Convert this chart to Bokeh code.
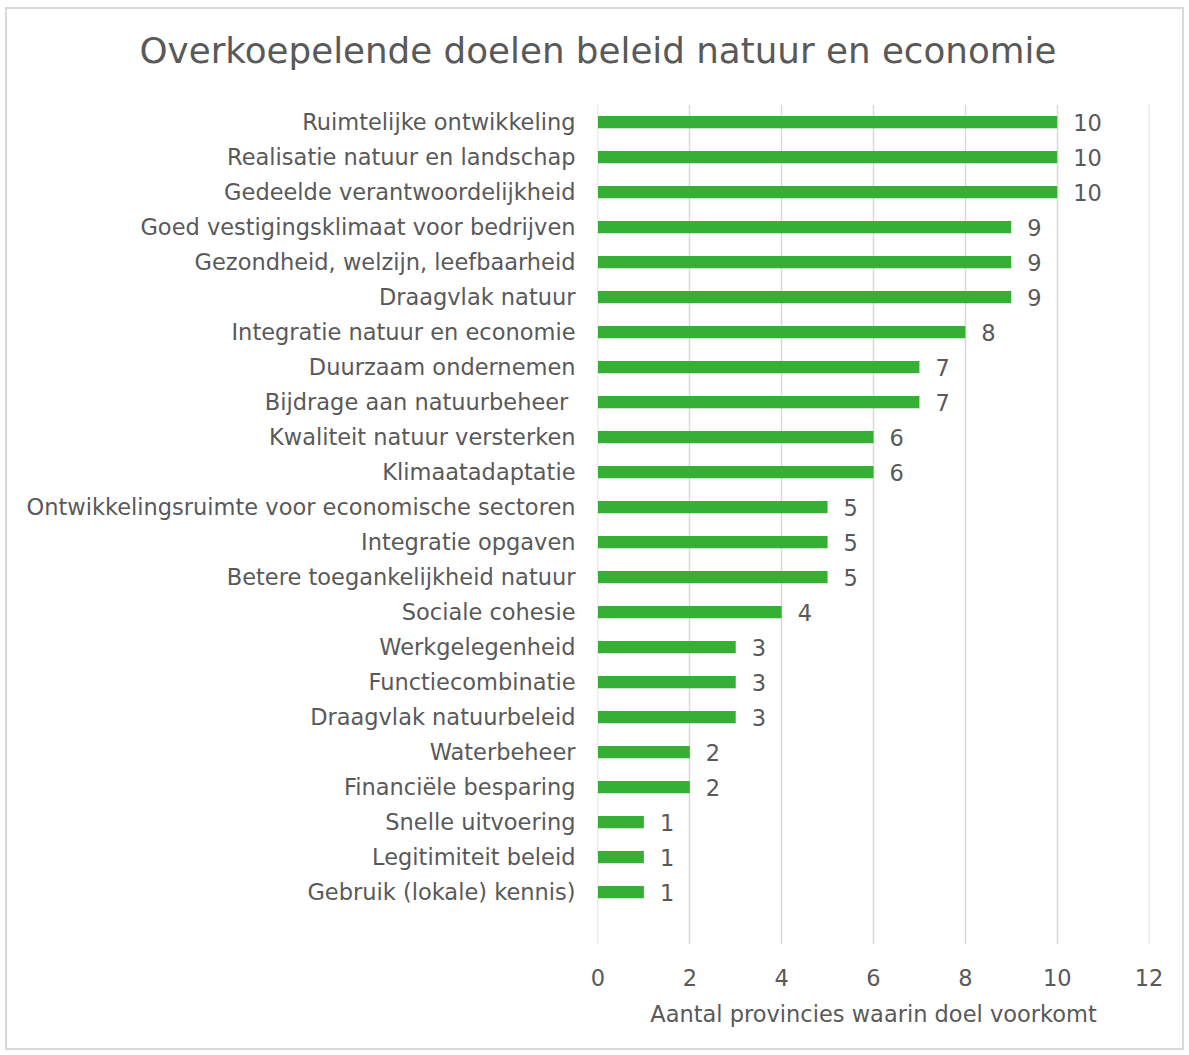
from bokeh.plotting import figure
from bokeh.models import ColumnDataSource, FixedTicker, Range1d, LabelSet, Title
from bokeh.core.properties import value
from bokeh.embed import file_html
from bokeh.resources import INLINE

title_text = "Overkoepelende doelen beleid natuur en economie"
categories = [
    "Ruimtelijke ontwikkeling",
    "Realisatie natuur en landschap",
    "Gedeelde verantwoordelijkheid",
    "Goed vestigingsklimaat voor bedrijven",
    "Gezondheid, welzijn, leefbaarheid",
    "Draagvlak natuur",
    "Integratie natuur en economie",
    "Duurzaam ondernemen",
    "Bijdrage aan natuurbeheer ",
    "Kwaliteit natuur versterken",
    "Klimaatadaptatie",
    "Ontwikkelingsruimte voor economische sectoren",
    "Integratie opgaven",
    "Betere toegankelijkheid natuur",
    "Sociale cohesie",
    "Werkgelegenheid",
    "Functiecombinatie",
    "Draagvlak natuurbeleid",
    "Waterbeheer",
    "Financiële besparing",
    "Snelle uitvoering",
    "Legitimiteit beleid",
    "Gebruik (lokale) kennis)",
]
values = [10, 10, 10, 9, 9, 9, 8, 7, 7, 6, 6, 5, 5, 5, 4, 3, 3, 3, 2, 2, 1, 1, 1]
x_ticks = [0, 2, 4, 6, 8, 10, 12]

FONT = "DejaVu Sans"
TXT = "#595959"
FS = "22.5px"
n = len(categories)
ypos = [n - i for i in range(n)]

src = ColumnDataSource(dict(y=ypos, v=values, lab=[str(v) for v in values]))

# figure sits inside a 2px light-grey border (CSS), offset 5px/7px from the page edge
p = figure(width=1179, height=1043, output_backend="svg", toolbar_location=None,
           x_range=Range1d(-0.01, 12.01), y_range=Range1d(-0.5, n + 0.5),
           min_border_left=590, min_border_right=37, min_border_top=95,
           min_border_bottom=108)
p.styles = {"margin-left": "5px", "margin-top": "7px",
            "border": "2px solid #d9d9d9"}
p.outline_line_color = None

p.hbar(y="y", right="v", left=0, height=0.35, source=src,
       fill_color="#35b035", line_color=None)

labels = LabelSet(x="v", y="y", text="lab", source=src, x_offset=16,
                  text_align="left", text_baseline="middle",
                  text_font=value(FONT), text_font_size=FS, text_color=TXT)
p.add_layout(labels)

# spacer panel between the frame and the title (closest to the frame)
spacer = Title(text=" ", text_font_size="10px", standoff=21)
p.add_layout(spacer, "above")

main_title = Title(text=title_text, text_font=FONT, text_font_size="35.7px",
                   text_font_style="normal", text_color=TXT, align="left",
                   offset=-458, vertical_align="bottom", standoff=0)
p.add_layout(main_title, "above")

p.xaxis.ticker = FixedTicker(ticks=x_ticks)
p.xaxis.axis_line_color = None
p.xaxis.major_tick_line_color = None
p.xaxis.minor_tick_line_color = None
p.xaxis.major_label_text_font = FONT
p.xaxis.major_label_text_font_size = FS
p.xaxis.major_label_text_color = TXT
p.xaxis.major_label_standoff = 18
p.xaxis.axis_label = "Aantal provincies waarin doel voorkomt"
p.xaxis.axis_label_text_font = FONT
p.xaxis.axis_label_text_font_size = FS
p.xaxis.axis_label_text_font_style = "normal"
p.xaxis.axis_label_text_color = TXT
p.xaxis.axis_label_standoff = 12

p.yaxis.ticker = FixedTicker(ticks=ypos)
p.yaxis.major_label_overrides = {y: c for y, c in zip(ypos, categories)}
p.yaxis.axis_line_color = None
p.yaxis.major_tick_line_color = None
p.yaxis.minor_tick_line_color = None
p.yaxis.major_label_text_font = FONT
p.yaxis.major_label_text_font_size = FS
p.yaxis.major_label_text_color = TXT
p.yaxis.major_label_standoff = 16

p.xgrid.grid_line_color = "#d9d9d9"
p.xgrid.grid_line_width = 1.5
p.ygrid.grid_line_color = None

open("out.html", "w").write(file_html(p, INLINE))
